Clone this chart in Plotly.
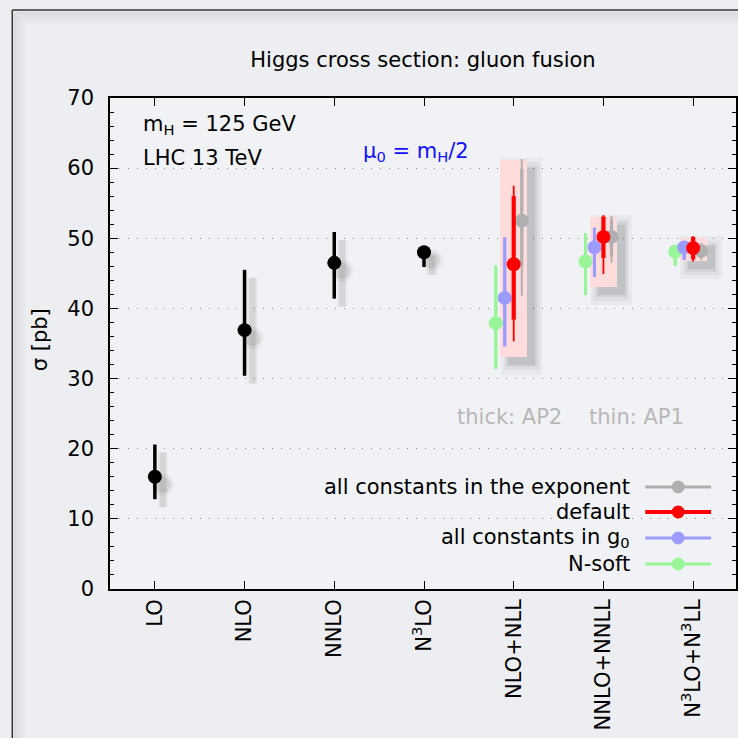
import plotly.graph_objects as go

# ---------------- data ----------------
categories = ["LO", "NLO", "NNLO", "N<sup>3</sup>LO", "NLO+NLL", "NNLO+NNLL", "N<sup>3</sup>LO+N<sup>3</sup>LL"]

# fixed order (black)
fo_x = [0, 1, 2, 3]
fo_c = [16.0, 36.9, 46.5, 48.0]
fo_lo = [12.8, 30.4, 41.4, 45.9]
fo_hi = [20.6, 45.5, 50.9, 48.7]

# resummed orders
res_x = [4, 5, 6]
band_lo = [33.1, 43.0, 46.7]
band_hi = [61.2, 53.1, 50.0]

# series: centre, thin (AP1) range, thick (AP2) range
exp_c = [52.5, 50.2, 48.2]
exp_thin_lo = [41.8, 46.5, 46.9]
exp_thin_hi = [61.3, 53.2, 49.3]
exp_thick_lo = [46.0, 47.5, 47.2]
exp_thick_hi = [59.9, 52.6, 49.1]

def_c = [46.3, 50.2, 48.6]
def_thin_lo = [35.3, 44.9, 46.7]
def_thin_hi = [57.5, 53.3, 50.3]
def_thick_lo = [38.4, 47.2, 47.0]
def_thick_hi = [56.0, 53.1, 50.2]

g0_c = [41.5, 48.7, 48.7]
g0_thin_lo = [34.6, 44.5, 46.9]
g0_thin_hi = [50.1, 51.5, 49.5]
g0_thick_lo = [34.6, 44.5, 46.9]
g0_thick_hi = [50.1, 51.5, 49.5]

ns_c = [37.9, 46.7, 48.1]
ns_thin_lo = [31.4, 41.9, 46.1]
ns_thin_hi = [46.1, 50.7, 48.9]
ns_thick_lo = [31.4, 41.9, 46.1]
ns_thick_hi = [46.1, 50.7, 48.9]

legend_labels = ["all constants in the exponent", "default", "all constants in g<sub>0</sub>", "N-soft"]

# ---------------- styling ----------------
FONT = "DejaVu Sans"
W, H = 738, 738
L, R, T, B = 110, 0, 98, 149
PW, PH = W - L - R, H - T - B
X_PER_CAT = 90.0
Y_PER_UNIT = PH / 70.0
SDX = 8 / X_PER_CAT      # drop-shadow offset (styling)
SDY = -8 / Y_PER_UNIT

def px(xp):
    return (xp - L) / PW

def py(yp):
    return (H - B - yp) / PH

def err(c, lo, hi):
    return ([h - v for v, h in zip(c, hi)], [v - l for v, l in zip(c, lo)])

series = [
    ("exp", exp_c, exp_thin_lo, exp_thin_hi, exp_thick_lo, exp_thick_hi, "#b0b0b0", 0.09, 2, 3.2),
    ("nsoft", ns_c, ns_thin_lo, ns_thin_hi, ns_thick_lo, ns_thick_hi, "#98f598", -0.20, 3, 3),
    ("g0", g0_c, g0_thin_lo, g0_thin_hi, g0_thick_lo, g0_thick_hi, "#9c9cff", -0.10, 3, 3),
    ("default", def_c, def_thin_lo, def_thin_hi, def_thick_lo, def_thick_hi, "#ff0000", 0.0, 1.8, 4.2),
]

fig = go.Figure()

# ---- soft drop shadows (offset copies) ----
band_len = [h - l for l, h in zip(band_lo, band_hi)]
for width_extra, hgt_extra, alpha in [(0.16, 1.4, 0.04), (0.10, 0.8, 0.05), (0.04, 0.3, 0.07), (0.0, 0.0, 0.08)]:
    fig.add_trace(go.Bar(
        x=[x + SDX for x in res_x], y=[v + 2 * hgt_extra for v in band_len],
        base=[l + SDY - hgt_extra for l in band_lo], width=0.3 + width_extra,
        marker=dict(color=f"rgba(30,30,30,{alpha})", line=dict(width=0)),
        showlegend=False, hoverinfo="skip"))

ap, am = err(fo_c, fo_lo, fo_hi)
for thick, size, alpha in [(10, 22, 0.05), (6, 16, 0.09)]:
    fig.add_trace(go.Scatter(
        x=[x + SDX for x in fo_x], y=[v + SDY for v in fo_c], mode="markers",
        marker=dict(color=f"rgba(30,30,30,{alpha})", size=size),
        error_y=dict(type="data", symmetric=False, array=ap, arrayminus=am,
                     color=f"rgba(30,30,30,{alpha})", thickness=thick, width=0),
        showlegend=False, hoverinfo="skip"))

# pink uncertainty boxes
fig.add_trace(go.Bar(
    x=res_x, y=band_len, base=band_lo,
    width=0.3, marker=dict(color="#ffdcdc", line=dict(width=0)),
    showlegend=False, hoverinfo="skip"))

# fixed order points
fig.add_trace(go.Scatter(
    x=fo_x, y=fo_c, mode="markers",
    marker=dict(color="black", size=14),
    error_y=dict(type="data", symmetric=False, array=ap, arrayminus=am,
                 color="black", thickness=3.5, width=0),
    showlegend=False))

for name, c, tlo, thi, klo, khi, col, off, tw, kw in series:
    xs = [x + off for x in res_x]
    tp, tm = err(c, tlo, thi)
    kp, km = err(c, klo, khi)
    fig.add_trace(go.Scatter(
        x=xs, y=c, mode="markers",
        marker=dict(color="rgba(0,0,0,0)", size=1),
        error_y=dict(type="data", symmetric=False, array=tp, arrayminus=tm,
                     color=col, thickness=tw, width=0),
        showlegend=False, hoverinfo="skip"))
    fig.add_trace(go.Scatter(
        x=xs, y=c, mode="markers", name=name,
        marker=dict(color=col, size=14),
        error_y=dict(type="data", symmetric=False, array=kp, arrayminus=km,
                     color=col, thickness=kw, width=0),
        showlegend=False))

shapes = []
annotations = []

# outer panel frame with soft inner shadow
for i, a in enumerate([0.07, 0.05, 0.035, 0.02]):
    off = 3 + 3 * i
    shapes.append(dict(type="line", xref="paper", yref="paper",
                       x0=px(12 + off), x1=px(745), y0=py(10 + off), y1=py(10 + off),
                       line=dict(color=f"rgba(0,0,0,{a})", width=3)))
    shapes.append(dict(type="line", xref="paper", yref="paper",
                       x0=px(12 + off), x1=px(12 + off), y0=py(10 + off), y1=py(745),
                       line=dict(color=f"rgba(0,0,0,{a})", width=3)))
shapes.append(dict(type="line", xref="paper", yref="paper",
                   x0=px(12), x1=px(745), y0=py(10), y1=py(10),
                   line=dict(color="#333333", width=1.5)))
shapes.append(dict(type="line", xref="paper", yref="paper",
                   x0=px(12), x1=px(12), y0=py(10), y1=py(745),
                   line=dict(color="#333333", width=1.5)))

# manual legend (text left of symbol)
leg_cols = ["#b0b0b0", "#ff0000", "#9c9cff", "#98f598"]
leg_w = [3, 4, 3, 3]
leg_rows = [487, 512, 538, 564]
for lab, col, lw, yr in zip(legend_labels, leg_cols, leg_w, leg_rows):
    annotations.append(dict(xref="paper", yref="paper", x=px(634), y=py(yr),
                            xanchor="right", yanchor="middle", showarrow=False,
                            text=lab, font=dict(family=FONT, size=21, color="black")))
    shapes.append(dict(type="line", xref="paper", yref="paper",
                       x0=px(647), x1=px(713), y0=py(yr), y1=py(yr),
                       line=dict(color=col, width=lw)))
    shapes.append(dict(type="circle", xref="paper", yref="paper",
                       xsizemode="pixel", ysizemode="pixel",
                       xanchor=px(680), yanchor=py(yr),
                       x0=-6.5, x1=6.5, y0=-6.5, y1=6.5,
                       fillcolor=col, line=dict(width=0)))

# text labels
annotations += [
    dict(xref="paper", yref="paper", x=px(141), y=py(125), xanchor="left", yanchor="middle",
         showarrow=False, text="m<sub>H</sub> = 125 GeV", font=dict(family=FONT, size=21, color="black")),
    dict(xref="paper", yref="paper", x=px(141), y=py(158), xanchor="left", yanchor="middle",
         showarrow=False, text="LHC 13 TeV", font=dict(family=FONT, size=21, color="black")),
    dict(xref="paper", yref="paper", x=px(362), y=py(152), xanchor="left", yanchor="middle",
         showarrow=False, text="μ<sub>0</sub> = m<sub>H</sub>/2", font=dict(family=FONT, size=21, color="#1010ff")),
    dict(xref="paper", yref="paper", x=px(456), y=py(417), xanchor="left", yanchor="middle",
         showarrow=False, text="thick: AP2", font=dict(family=FONT, size=21, color="#b8b8b8")),
    dict(xref="paper", yref="paper", x=px(589), y=py(417), xanchor="left", yanchor="middle",
         showarrow=False, text="thin: AP1", font=dict(family=FONT, size=21, color="#b8b8b8")),
    dict(xref="paper", yref="paper", x=px(40), y=py(340), xanchor="center", yanchor="middle",
         showarrow=False, text="σ [pb]", textangle=-90, font=dict(family=FONT, size=21, color="black")),
]

fig.update_layout(
    width=W, height=H,
    margin=dict(l=L, r=R, t=T, b=B, pad=0),
    paper_bgcolor="#edeef1",
    plot_bgcolor="#f1f2f5",
    font=dict(family=FONT, size=21, color="black"),
    title=dict(text="Higgs cross section: gluon fusion", x=0.5, xref="paper", xanchor="center",
               y=1 - 60 / H, yref="container", yanchor="middle",
               font=dict(family=FONT, size=21, color="black")),
    showlegend=False,
    barmode="overlay",
    bargap=0,
    shapes=shapes,
    annotations=annotations,
    xaxis=dict(range=[-0.5, (W - 155) / X_PER_CAT], tickmode="array", tickvals=list(range(7)),
               ticktext=categories, tickangle=-90, ticks="inside", ticklen=8, tickwidth=1,
               tickcolor="black", showline=True, linecolor="black", linewidth=1.5,
               mirror="ticks", showgrid=False, zeroline=False,
               tickfont=dict(family=FONT, size=21, color="black"), ticklabelstandoff=0),
    yaxis=dict(range=[0, 70], dtick=10, ticks="inside", ticklen=8, tickwidth=1, tickcolor="black",
               showline=True, linecolor="black", linewidth=1.5, mirror="ticks",
               showgrid=True, gridcolor="#8a8a8a", griddash="1px,8px", gridwidth=1, zeroline=False,
               minor=dict(dtick=2, ticks="inside", ticklen=4, tickcolor="black", showgrid=False),
               tickfont=dict(family=FONT, size=21, color="black"), ticklabelstandoff=10),
)

fig.write_html("out.html", config={"displayModeBar": False},
               post_script="document.body.style.margin='0';document.body.style.background='#edeef1';")
